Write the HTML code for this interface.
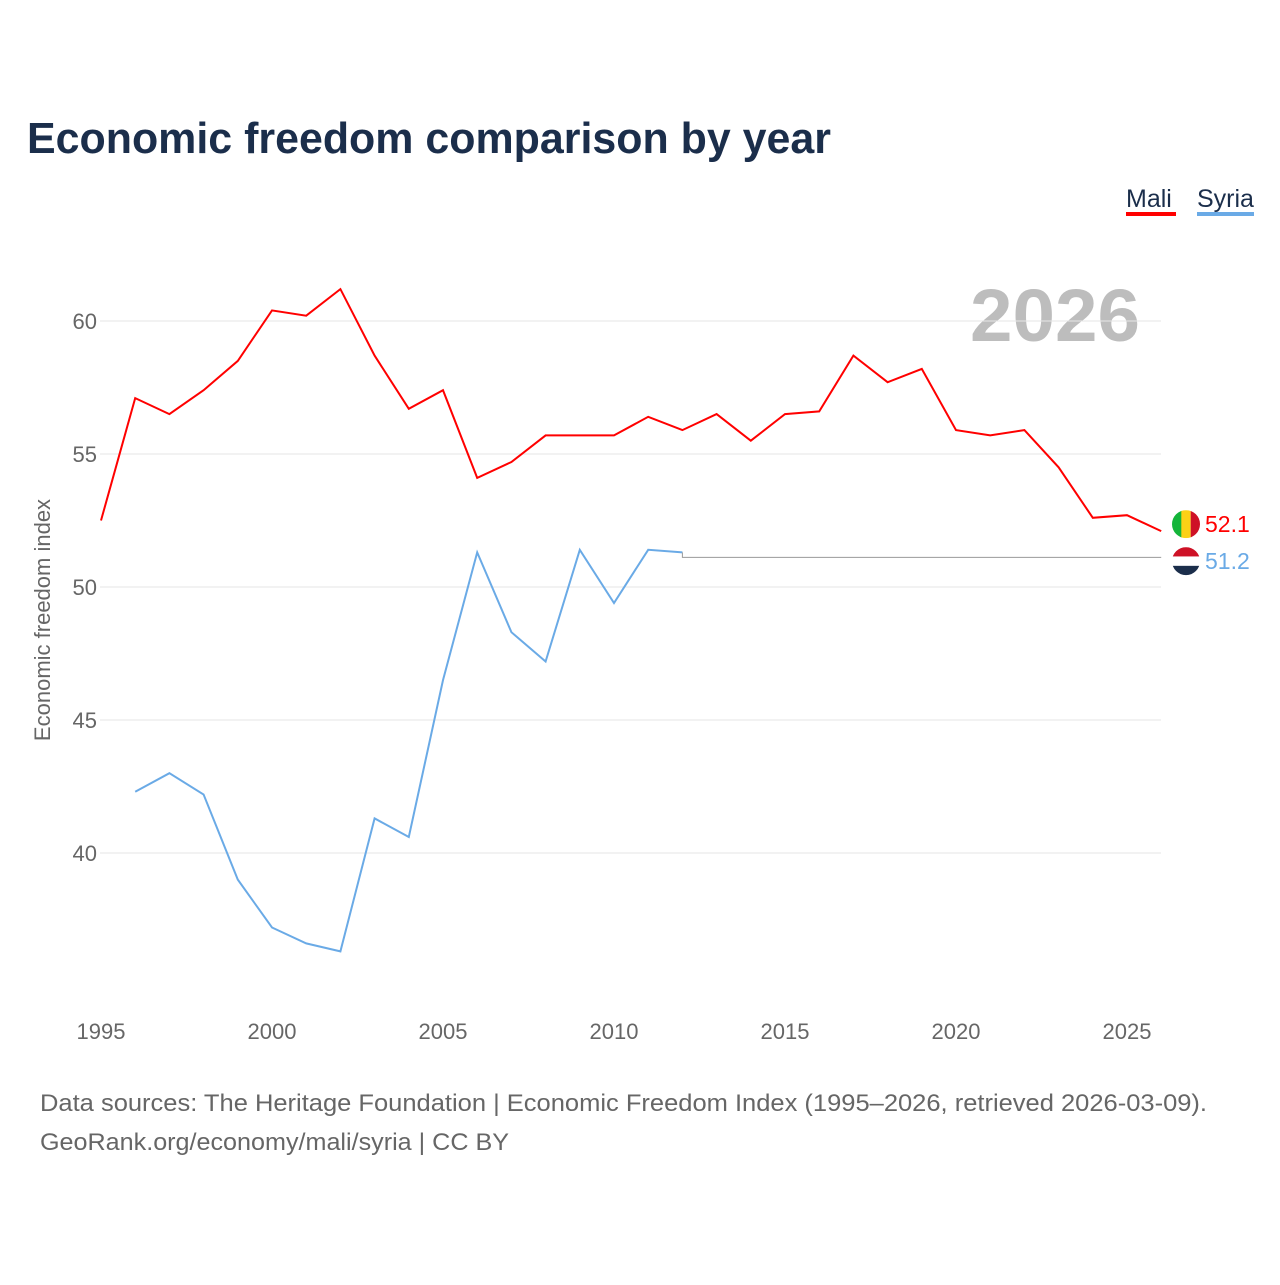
<!DOCTYPE html>
<html><head><meta charset="utf-8">
<style>
html,body{margin:0;padding:0;background:#fff;}
body{width:1280px;height:1280px;position:relative;font-family:"Liberation Sans",sans-serif;overflow:hidden;}
</style></head>
<body>
<svg id="chart" width="1280" height="1280" xmlns="http://www.w3.org/2000/svg">
<text x="27" y="153" font-size="44" font-weight="bold" fill="#1b2e4b" textLength="804" lengthAdjust="spacingAndGlyphs">Economic freedom comparison by year</text>
<g>
<text x="1126" y="207" font-size="25" fill="#1b2e4b">Mali</text>
<rect x="1126" y="212" width="50" height="4" fill="#ff0000"/>
<text x="1197" y="207" font-size="25" fill="#1b2e4b">Syria</text>
<rect x="1197" y="212" width="57" height="4" fill="#6aaae6"/>
</g>
<text x="970" y="341" font-size="74" font-weight="bold" fill="#bdbdbd" textLength="170" lengthAdjust="spacingAndGlyphs">2026</text>
<text transform="translate(50,620) rotate(-90)" font-size="22" fill="#666" text-anchor="middle">Economic freedom index</text>
<g id="grid"></g><g id="ticks"></g><g id="lines"></g>
<text x="40" y="1111" font-size="24" fill="#666" textLength="1167" lengthAdjust="spacingAndGlyphs">Data sources: The Heritage Foundation | Economic Freedom Index (1995–2026, retrieved 2026-03-09).</text>
<text x="40" y="1150" font-size="24" fill="#666" textLength="469" lengthAdjust="spacingAndGlyphs">GeoRank.org/economy/mali/syria | CC BY</text>
</svg>
<script>
const years = [1995,1996,1997,1998,1999,2000,2001,2002,2003,2004,2005,2006,2007,2008,2009,2010,2011,2012,2013,2014,2015,2016,2017,2018,2019,2020,2021,2022,2023,2024,2025,2026];
const mali = [52.5,57.1,56.5,57.4,58.5,60.4,60.2,61.2,58.7,56.7,57.4,54.1,54.7,55.7,55.7,55.7,56.4,55.9,56.5,55.5,56.5,56.6,58.7,57.7,58.2,55.9,55.7,55.9,54.5,52.6,52.7,52.1];
const syria = [null,42.3,43.0,42.2,39.0,37.2,36.6,36.3,41.3,40.6,46.5,51.3,48.3,47.2,51.4,49.4,51.4,51.3,null,null,null,null,null,null,null,null,null,null,null,null,null,null];
const yTicks = [40,45,50,55,60];
const xTicks = [1995,2000,2005,2010,2015,2020,2025];
const NS='http://www.w3.org/2000/svg';
const x = y => 101 + (y-1995)*34.2;
const yv = v => 321 + (60-v)*26.6;
function mk(tag, attrs, parent){const e=document.createElementNS(NS,tag);for(const k in attrs)e.setAttribute(k,attrs[k]);parent.appendChild(e);return e;}
const grid=document.getElementById('grid'), ticks=document.getElementById('ticks'), lines=document.getElementById('lines');
yTicks.forEach(t=>{
  const l=mk('line',{x1:100,x2:1161,y1:yv(t),y2:yv(t),stroke:'#e6e6e6','stroke-width':1},grid);
  
  
  const tx=mk('text',{x:97,y:yv(t)+8,'font-size':22,fill:'#666','text-anchor':'end'},ticks);
  tx.textContent=t;
  
  
});
xTicks.forEach(t=>{
  const tx=mk('text',{x:x(t),y:1039,'font-size':22,fill:'#666','text-anchor':'middle'},ticks);
  tx.textContent=t;
  
  
});
function path(vals){let d='',pen=false;vals.forEach((v,i)=>{if(v==null){pen=false;return;}d+=(pen?'L':'M')+x(years[i]).toFixed(1)+','+yv(v).toFixed(1);pen=true;});return d;}
const pm=mk('path',{d:path(mali),fill:'none',stroke:'#ff0000','stroke-width':2},lines);


const ps=mk('path',{d:path(syria),fill:'none',stroke:'#6aaae6','stroke-width':2},lines);


let lastI=-1; syria.forEach((v,i)=>{if(v!=null)lastI=i;});
const cont=mk('path',{d:'M'+x(years[lastI])+','+yv(syria[lastI])+'V'+(yv(syria[lastI])+5)+'H'+x(2026),fill:'none',stroke:'#999','stroke-width':1},lines);


const ex=1186;
const mY=yv(mali[mali.length-1])-7;
const g1=mk('g',{},lines);


mk('clipPath',{id:'c1'},g1).appendChild(document.createElementNS(NS,'circle'));
const c1=g1.querySelector('circle');c1.setAttribute('cx',ex);c1.setAttribute('cy',mY);c1.setAttribute('r',14);
const gg1=mk('g',{'clip-path':'url(#c1)'},g1);
mk('rect',{x:ex-14,y:mY-14,width:10,height:28,fill:'#14b53a'},gg1);
mk('rect',{x:ex-4.7,y:mY-14,width:9.4,height:28,fill:'#fcd116'},gg1);
mk('rect',{x:ex+4.7,y:mY-14,width:10,height:28,fill:'#ce1126'},gg1);
const sY=mY+37;
const g2=mk('g',{},lines);


mk('clipPath',{id:'c2'},g2).appendChild(document.createElementNS(NS,'circle'));
const c2=g2.querySelector('circle');c2.setAttribute('cx',ex);c2.setAttribute('cy',sY);c2.setAttribute('r',14);
const gg2=mk('g',{'clip-path':'url(#c2)'},g2);
mk('rect',{x:ex-14,y:sY-14,width:28,height:9.4,fill:'#ce1126'},gg2);
mk('rect',{x:ex-14,y:sY-4.7,width:28,height:9.4,fill:'#fff'},gg2);
mk('rect',{x:ex-14,y:sY+4.7,width:28,height:10,fill:'#1b2e4b'},gg2);
const lm=mk('text',{x:1205,y:mY+8,'font-size':23,fill:'#ff0000'},lines);
lm.textContent=mali[mali.length-1].toFixed(1);


const ls=mk('text',{x:1205,y:sY+8,'font-size':23,fill:'#6aaae6'},lines);
ls.textContent='51.2';


</script>
</body></html>
